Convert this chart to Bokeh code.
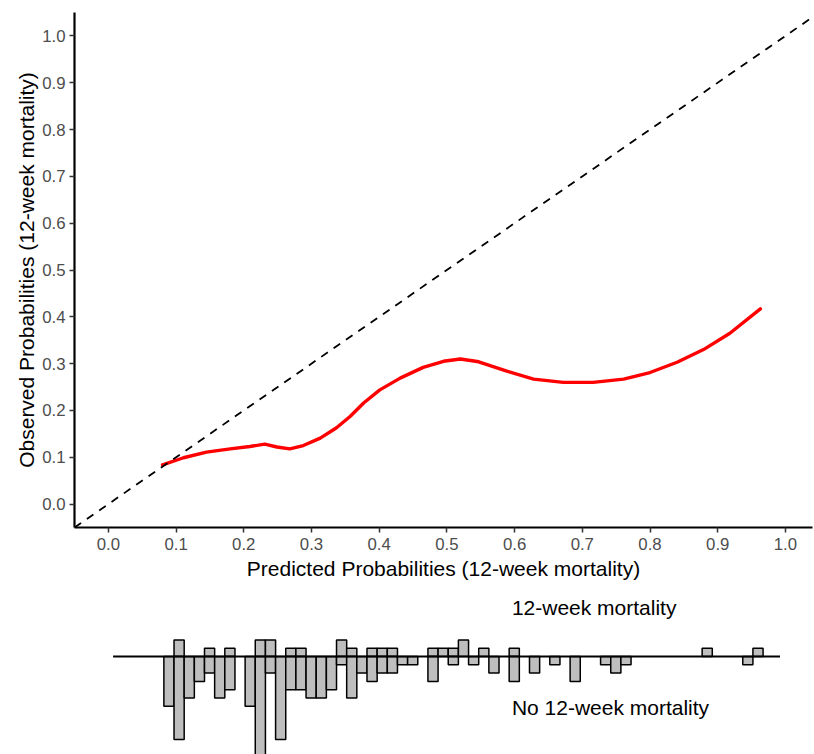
from bokeh.plotting import figure
from bokeh.layouts import column
from bokeh.models import Range1d, Slope, Label, FixedTicker, NumeralTickFormatter, ColumnDataSource
from bokeh.embed import file_html
from bokeh.resources import INLINE

# ---- calibration curve (red) ----
curve_x = [0.080, 0.111, 0.145, 0.180, 0.209, 0.231, 0.249, 0.268, 0.288, 0.313,
           0.337, 0.357, 0.377, 0.401, 0.431, 0.465, 0.495, 0.520, 0.547, 0.5885,
           0.628, 0.672, 0.716, 0.761, 0.800, 0.840, 0.879, 0.918, 0.963]
curve_y = [0.084, 0.099, 0.111, 0.118, 0.123, 0.128, 0.122, 0.118, 0.125, 0.141,
           0.163, 0.187, 0.216, 0.244, 0.269, 0.292, 0.305, 0.310, 0.304, 0.284,
           0.267, 0.260, 0.260, 0.267, 0.281, 0.303, 0.330, 0.365, 0.417]

tick_values = [0.0, 0.1, 0.2, 0.3, 0.4, 0.5, 0.6, 0.7, 0.8, 0.9, 1.0]

# ---- histogram of predicted probabilities ----
bin_width = 0.015
bin_left = [0.082, 0.097, 0.112, 0.127, 0.142, 0.157, 0.172, 0.187, 0.202, 0.217,
            0.232, 0.247, 0.262, 0.277, 0.292, 0.307, 0.322, 0.337, 0.352, 0.367,
            0.382, 0.397, 0.412, 0.427, 0.442, 0.457, 0.472, 0.487, 0.502, 0.517,
            0.532, 0.547, 0.562, 0.577, 0.592, 0.607, 0.622, 0.637, 0.652, 0.667,
            0.682, 0.697, 0.712, 0.727, 0.742, 0.757, 0.772, 0.787, 0.802, 0.817,
            0.832, 0.847, 0.862, 0.877, 0.892, 0.907, 0.922, 0.937, 0.952]
count_event = [0, 2, 0, 0, 1, 0, 1, 0, 0, 2,
               2, 0, 1, 1, 0, 0, 0, 2, 1, 0,
               1, 1, 1, 0, 0, 0, 1, 1, 1, 2,
               0, 1, 0, 0, 1, 0, 0, 0, 0, 0,
               0, 0, 0, 0, 0, 0, 0, 0, 0, 0,
               0, 0, 0, 1, 0, 0, 0, 0, 1]
count_no_event = [6, 10, 5, 3, 2, 5, 4, 0, 6, 12,
                  2, 10, 4, 4, 5, 5, 4, 1, 5, 2,
                  3, 2, 2, 1, 1, 0, 3, 0, 1, 0,
                  1, 0, 2, 0, 3, 0, 2, 0, 1, 0,
                  3, 0, 0, 1, 2, 1, 0, 0, 0, 0,
                  0, 0, 0, 0, 0, 0, 0, 1, 0]
hist_baseline_x = [0.007, 0.992]

FONT = "Liberation Sans"

# ---------------- main calibration plot ----------------
p1 = figure(width=814, height=590, output_backend="svg", toolbar_location=None,
            x_range=Range1d(-0.05, 1.04), y_range=Range1d(-0.05, 1.05),
            min_border_left=74, min_border_right=2, min_border_top=12, min_border_bottom=63)
p1.grid.visible = False
p1.outline_line_color = None
p1.background_fill_color = "white"

p1.add_layout(Slope(gradient=1, y_intercept=0, line_color="black", line_width=1.8,
                    line_dash="8 7"))
p1.line(curve_x, curve_y, line_color="#FF0000", line_width=3.4, line_join="round", line_cap="round")

for ax in (p1.xaxis[0], p1.yaxis[0]):
    ax.ticker = FixedTicker(ticks=tick_values)
    ax.formatter = NumeralTickFormatter(format="0.0")
    ax.axis_line_color = "black"
    ax.axis_line_width = 2.2
    ax.major_tick_in = 0
    ax.major_tick_out = 5
    ax.major_tick_line_color = "#333333"
    ax.major_tick_line_width = 1.5
    ax.minor_tick_line_color = None
    ax.major_label_text_font = FONT
    ax.major_label_text_font_size = "16.8px"
    ax.major_label_text_color = "#4D4D4D"
    ax.axis_label_text_font = FONT
    ax.axis_label_text_font_size = "21px"
    ax.axis_label_text_font_style = "normal"
    ax.axis_label_text_color = "black"

p1.xaxis.axis_label = "Predicted Probabilities (12-week mortality)"
p1.yaxis.axis_label = "Observed Probabilities (12-week mortality)"
p1.xaxis.major_label_standoff = 5
p1.xaxis.axis_label_standoff = 4
p1.yaxis.major_label_standoff = 4
p1.yaxis.axis_label_standoff = 1

# ---------------- histogram strip ----------------
p2 = figure(width=814, height=164, output_backend="svg", toolbar_location=None,
            x_range=p1.x_range, y_range=Range1d(-11.8, 7.95),
            x_axis_type=None, y_axis_type=None,
            min_border_left=74, min_border_right=2, min_border_top=0, min_border_bottom=0)
p2.grid.visible = False
p2.outline_line_color = None

up_l = [l for l, c in zip(bin_left, count_event) if c > 0]
up_c = [c for c in count_event if c > 0]
dn_l = [l for l, c in zip(bin_left, count_no_event) if c > 0]
dn_c = [-c for c in count_no_event if c > 0]

src_up = ColumnDataSource(dict(left=up_l, right=[l + bin_width for l in up_l], top=up_c, bottom=[0] * len(up_c)))
src_dn = ColumnDataSource(dict(left=dn_l, right=[l + bin_width for l in dn_l], top=[0] * len(dn_c), bottom=dn_c))
p2.quad(left="left", right="right", top="top", bottom="bottom", source=src_up,
        fill_color="#BEBEBE", line_color="black", line_width=1.5)
p2.quad(left="left", right="right", top="top", bottom="bottom", source=src_dn,
        fill_color="#BEBEBE", line_color="black", line_width=1.5)
p2.line(hist_baseline_x, [0, 0], line_color="black", line_width=1.8)

p2.add_layout(Label(x=0.596, y=5.85, text="12-week mortality", text_align="left",
                    text_baseline="alphabetic", text_font=FONT, text_font_size="21px",
                    text_color="black"))
p2.add_layout(Label(x=0.596, y=-6.15, text="No 12-week mortality", text_align="left",
                    text_baseline="alphabetic", text_font=FONT, text_font_size="21px",
                    text_color="black"))

layout = column(p1, p2, spacing=0)
open("out.html", "w").write(file_html(layout, INLINE))
